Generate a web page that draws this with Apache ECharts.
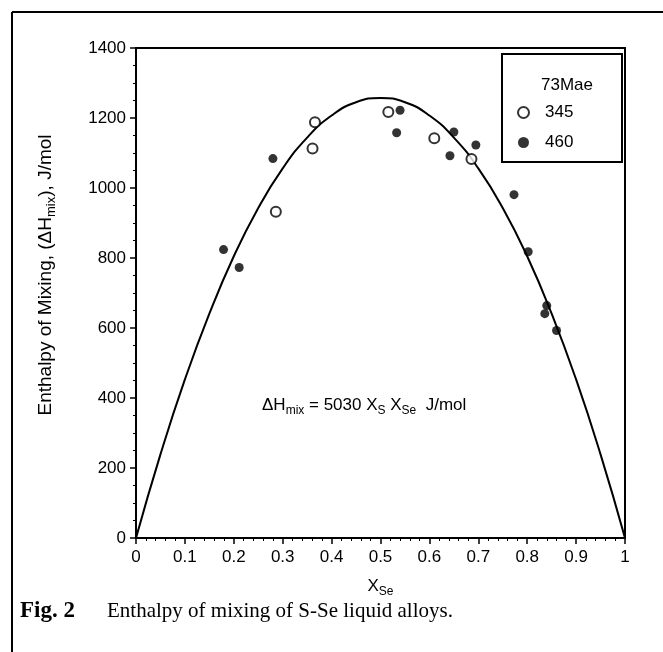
<!DOCTYPE html>
<html lang="en">
	<head>
		<meta charset="utf-8">
		<title>Enthalpy of mixing of S-Se liquid alloys</title>
		<script src="https://cdn.jsdelivr.net/npm/echarts@6/dist/echarts.min.js"></script>
		<style type="text/css">
			html, body { margin: 0; padding: 0; background: #fff; }
			#chart { width: 663px; height: 652px; }
		</style>
	</head>
	<body>
		<div id="chart"></div>
		<script type="text/javascript">
			// 73Mae, 345 (open circles)
			var xs345 = [0.286, 0.361, 0.366, 0.516, 0.610, 0.686];
			var h345 = [932, 1113, 1188, 1217, 1142, 1083];
			// 73Mae, 460 (filled circles)
			var xs460 = [0.179, 0.211, 0.280, 0.533, 0.540, 0.642, 0.650, 0.695, 0.773, 0.802, 0.836, 0.840, 0.860];
			var h460 = [824, 773, 1084, 1158, 1222, 1092, 1160, 1123, 981, 818, 641, 664, 593];
			// fitted curve
			var curveX = [0, 0.05, 0.1, 0.15, 0.2, 0.25, 0.3, 0.35, 0.4, 0.45, 0.5, 0.55, 0.6, 0.65, 0.7, 0.75, 0.8, 0.85, 0.9, 0.95, 1];
			var curveH = [0, 239, 453, 641, 805, 943, 1056, 1144, 1207, 1245, 1257, 1245, 1207, 1144, 1056, 943, 805, 641, 453, 239, 0];
			var xTicks = ['0', '0.1', '0.2', '0.3', '0.4', '0.5', '0.6', '0.7', '0.8', '0.9', '1'];

			function pairs(a, b) {
				return a.map(function (v, i) { return [v, b[i]]; });
			}

			var myChart = echarts.init(document.getElementById('chart'));
			var font = 'Liberation Sans, Arial, sans-serif';
			var serif = 'Liberation Serif, Times New Roman, serif';
			var subRich = function (size, sub, drop) {
				return {
					a: { fontFamily: font, fontSize: size, fill: '#000', color: '#000' },
					s: { fontFamily: font, fontSize: sub, fill: '#000', color: '#000', padding: [drop, 0, 0, 0] }
				};
			};
			var option = {
				backgroundColor: '#fff',
				animation: false,
				grid: {
					left: 136, right: 38, top: 48, bottom: 114,
					show: true, borderColor: '#000', borderWidth: 2
				},
				xAxis: {
					type: 'value', min: 0, max: 1, interval: 0.1,
					name: '{a|X}{s|Se}',
					nameLocation: 'middle', nameGap: 37,
					nameTextStyle: { rich: subRich(17, 12, 11) },
					axisLine: { lineStyle: { color: '#000', width: 2 } },
					axisTick: { length: 6, lineStyle: { color: '#000', width: 1.5 } },
					minorTick: { show: true, splitNumber: 5, length: 3, lineStyle: { color: '#000' } },
					splitLine: { show: false },
					axisLabel: {
						fontFamily: font, fontSize: 17, color: '#000', margin: 11,
						formatter: function (v) { return xTicks[Math.round(v * 10)]; }
					}
				},
				yAxis: {
					type: 'value', min: 0, max: 1400, interval: 200,
					axisLine: { lineStyle: { color: '#000', width: 2 } },
					axisTick: { length: 6, lineStyle: { color: '#000', width: 1.5 } },
					minorTick: { show: true, splitNumber: 4, length: 3, lineStyle: { color: '#000' } },
					splitLine: { show: false },
					axisLabel: {
						fontFamily: font, fontSize: 17, color: '#000', margin: 10,
						formatter: function (v) { return String(v); }
					}
				},
				legend: {
					orient: 'vertical',
					left: 512, top: 99,
					itemGap: 13,
					itemWidth: 11, itemHeight: 11,
					textStyle: { fontFamily: font, fontSize: 17, color: '#000', padding: [0, 0, 0, 11] },
					data: ['345', '460']
				},
				graphic: [
					// outer frame (top and left only)
					{ type: 'line', shape: { x1: 12, y1: 12, x2: 663, y2: 12 }, style: { stroke: '#000', lineWidth: 2 } },
					{ type: 'line', shape: { x1: 12, y1: 12, x2: 12, y2: 652 }, style: { stroke: '#000', lineWidth: 2 } },
					// legend box
					{ type: 'rect', shape: { x: 502, y: 54, width: 120, height: 108 }, style: { fill: 'none', stroke: '#000', lineWidth: 2 }, z: 10 },
					{ type: 'text', left: 541, top: 77, style: { text: '73Mae', fontFamily: font, fontSize: 17, fill: '#000' }, z: 10 },
					// y axis title
					{
						type: 'text', x: 46, y: 275, rotation: Math.PI / 2, z: 10,
						style: {
							text: '{a|Enthalpy of Mixing, (ΔH}{s|mix}{a|), J/mol}',
							align: 'center', verticalAlign: 'middle',
							rich: subRich(19, 13, 11)
						}
					},
					// equation
					{
						type: 'text', left: 262, top: 397, z: 10,
						style: {
							text: '{a|ΔH}{s|mix}{a| = 5030 X}{s|S}{a| X}{s|Se}{a|  J/mol}',
							rich: subRich(17, 12, 11)
						}
					},
					// caption
					{
						type: 'text', left: 20, top: 600, z: 10,
						style: { text: 'Fig. 2', fontFamily: serif, fontSize: 23, fontWeight: 'bold', fill: '#000' }
					},
					{
						type: 'text', left: 107, top: 601, z: 10,
						style: { text: 'Enthalpy of mixing of S-Se liquid alloys.', fontFamily: serif, fontSize: 21, fill: '#000' }
					}
				],
				series: [
					{
						name: 'curve', type: 'line', data: pairs(curveX, curveH),
						smooth: true, symbol: 'none',
						lineStyle: { color: '#000', width: 2 }, z: 2
					},
					{
						name: '345', type: 'scatter', data: pairs(xs345, h345),
						symbol: 'circle', symbolSize: 10,
						itemStyle: { color: '#fff', borderColor: '#000', borderWidth: 2 }, z: 3
					},
					{
						name: '460', type: 'scatter', data: pairs(xs460, h460),
						symbol: 'circle', symbolSize: 9,
						itemStyle: { color: '#000' }, z: 3
					}
				]
			};
			myChart.setOption(option);
		</script>
	</body>
</html>
